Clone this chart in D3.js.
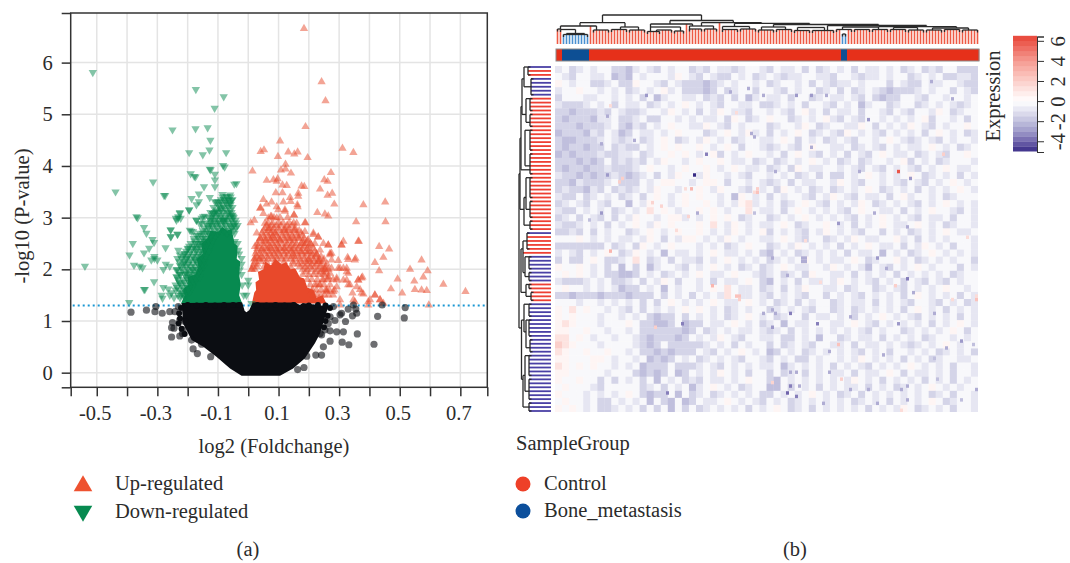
<!DOCTYPE html>
<html lang="en">
<head>
  <meta charset="UTF-8">
  <title>Volcano plot and expression heatmap</title>
  <script src="https://d3js.org/d3.v7.min.js"></script>
  <style>
    body { margin: 0; background: #fff; }
    text { font-family: "Liberation Serif", serif; fill: #2b2b2b; font-size: 20.5px; }
    .tick text { font-size: 20.5px; }
  </style>
</head>
<body>
<div id="chart-container"></div>
<script>
  // ---- panel (a), values as [log2 foldchange, -log10 p] ----
  const xTicks = [-0.5, -0.4, -0.3, -0.2, -0.1, 0, 0.1, 0.2, 0.3, 0.4, 0.5, 0.6, 0.7];
  const xLabels = [-0.5, -0.3, -0.1, 0.1, 0.3, 0.5, 0.7];
  const yTicks = [0, 1, 2, 3, 4, 5, 6];
  const threshold = 1.3;

  const downPoints = [
    [-0.513,5.81],[-0.173,5.48],[-0.081,5.34],[-0.111,5.12],[-0.25,4.7],[-0.174,4.72],[-0.134,4.74],[-0.125,4.5],
    [-0.128,4.31],[-0.195,4.26],[-0.15,4.22],[-0.073,4.26],[-0.083,4.01],[-0.078,3.98],[-0.124,3.93],[-0.127,3.94],
    [-0.19,3.85],[-0.174,3.79],[-0.178,3.8],[-0.11,3.84],[-0.11,3.73],[-0.314,3.69],[-0.438,3.5],[-0.278,3.43],[-0.274,3.43],
    [-0.039,3.66],[-0.046,3.65],[-0.146,3.6],[-0.11,3.6],[-0.163,3.46],[-0.187,3.37],[-0.163,3.31],[-0.171,3.25],
    [-0.127,3.39],[-0.11,3.31],[-0.099,3.31],[-0.085,3.45],[-0.072,3.41],[-0.06,3.44],[-0.072,3.34],[-0.055,3.34],
    [-0.063,3.28],[-0.088,3.18],[-0.116,3.08],[-0.063,3.08],[-0.195,3.15],[-0.226,3.1],[-0.231,3.02],[-0.239,2.99],
    [-0.223,2.99],[-0.369,3.02],[-0.365,3.0],[-0.143,3.03],[-0.154,2.99],[-0.171,2.95],[-0.16,2.88],[-0.08,2.95],
    [-0.055,3.05],[-0.344,2.81],[-0.336,2.7],[-0.316,2.58],[-0.311,2.52],[-0.256,2.76],[-0.255,2.63],[-0.234,2.68],
    [-0.381,2.5],[-0.273,2.42],[-0.327,2.41],[-0.344,2.32],[-0.392,2.28],[-0.31,2.25],[-0.3,2.18],
    [-0.539,2.06],[-0.377,2.08],[-0.358,2.06],[-0.349,2.03],[-0.32,2.18],[-0.31,2.21],[-0.28,2.0],[-0.272,2.1],
    [-0.259,2.06],[-0.311,1.76],[-0.344,1.61],[-0.341,1.61],[-0.393,1.36],[-0.28,1.65],[-0.264,1.62],[-0.286,1.5],
    [-0.283,1.44],[-0.253,1.55],[-0.259,1.5],[-0.231,2.37],[-0.226,2.28],[-0.234,2.21],[-0.209,2.31],[-0.204,2.21],
    [-0.198,2.41],[-0.176,2.41],[-0.176,2.18],[-0.209,2.12],[-0.226,2.08],[-0.237,1.99],[-0.204,1.92],[-0.237,1.86],
    [-0.226,1.73],[-0.195,1.86],[-0.165,2.5],[-0.138,2.54],[-0.193,2.76],[-0.188,2.74],[-0.182,2.73],[-0.171,2.66],
    [-0.138,2.7],[-0.154,2.89],[-0.149,3.02],[-0.171,2.95],[-0.127,2.86],[-0.116,3.08],[-0.105,3.12],[-0.083,2.95],
    [-0.077,2.95],[-0.05,3.02],[-0.226,3.08],[-0.231,2.99],[-0.237,2.95],[-0.195,3.15],[-0.256,2.77],[-0.256,2.63],
    [-0.233,2.68],[0,1.79],[0,1.7],[-0.006,1.5],[0.011,1.34],[-0.193,1.57],[-0.215,1.54],[-0.182,1.99],[-0.187,1.73],
    [-0.033,2.37],[-0.022,2.21],[-0.028,1.99],[-0.044,2.54],[-0.05,2.83],[-0.245,1.45],[-0.24,1.6],[-0.225,1.9],[-0.12,2.95],[-0.1,2.9]
  ];

  // the crowded part of each cloud, read level by level
  const downDenseLevels = [1.45, 1.5, 1.55, 1.6, 1.65, 1.7, 1.75, 1.8, 1.85, 1.9, 1.95, 2.0, 2.05, 2.1, 2.15, 2.2, 2.25, 2.3, 2.35, 2.4, 2.45, 2.5, 2.55, 2.6, 2.65, 2.7, 2.75, 2.8, 2.85, 2.9, 2.95, 3.0, 3.05, 3.1, 3.15, 3.2, 3.25, 3.3, 3.35, 3.4];
  const downDenseX = [
    [-0.225,-0.21],
    [-0.232,-0.222,-0.212,-0.015],
    [-0.22,-0.205],
    [-0.228,-0.21,-0.198],
    [-0.235,-0.215,-0.2,-0.185],
    [-0.24,-0.222,-0.205,-0.19,-0.02],
    [-0.228,-0.212,-0.195,-0.18],
    [-0.232,-0.215,-0.2,-0.185,-0.172],
    [-0.235,-0.205,-0.19,-0.175,-0.16],
    [-0.225,-0.21,-0.195,-0.18,-0.168,-0.022],
    [-0.228,-0.208,-0.192,-0.176,-0.163],
    [-0.235,-0.218,-0.2,-0.185,-0.17,-0.157],
    [-0.222,-0.205,-0.19,-0.175,-0.16,-0.148],
    [-0.215,-0.198,-0.182,-0.165,-0.152,-0.022],
    [-0.228,-0.21,-0.192,-0.172,-0.158,-0.145],
    [-0.22,-0.205,-0.19,-0.175,-0.16,-0.147],
    [-0.215,-0.198,-0.182,-0.168,-0.155,-0.14],
    [-0.212,-0.195,-0.178,-0.163,-0.15,-0.03],
    [-0.205,-0.19,-0.172,-0.158,-0.148,-0.13],
    [-0.2,-0.185,-0.17,-0.155,-0.143],
    [-0.195,-0.178,-0.162,-0.148,-0.138,-0.125],
    [-0.19,-0.175,-0.16,-0.15,-0.135,-0.035],
    [-0.178,-0.158,-0.145,-0.13,-0.118],
    [-0.18,-0.165,-0.15,-0.14,-0.125],
    [-0.165,-0.148,-0.125,-0.108],
    [-0.16,-0.15,-0.13,-0.118,-0.1,-0.07,-0.045],
    [-0.15,-0.135,-0.112,-0.095,-0.08,-0.062,-0.048],
    [-0.145,-0.132,-0.118,-0.102,-0.088,-0.07,-0.055,-0.04],
    [-0.135,-0.12,-0.108,-0.09,-0.075,-0.06,-0.047,-0.035],
    [-0.14,-0.125,-0.11,-0.095,-0.08,-0.065,-0.05,-0.04],
    [-0.125,-0.112,-0.098,-0.085,-0.07,-0.055,-0.042],
    [-0.13,-0.12,-0.105,-0.09,-0.075,-0.06,-0.048],
    [-0.118,-0.1,-0.088,-0.07,-0.052],
    [-0.125,-0.11,-0.1,-0.085,-0.068,-0.055],
    [-0.105,-0.09,-0.075,-0.06],
    [-0.115,-0.095,-0.08,-0.065,-0.052],
    [-0.098,-0.085,-0.07,-0.058],
    [-0.105,-0.09,-0.075,-0.06],
    [-0.09,-0.08,-0.065,-0.052],
    [-0.085,-0.07,-0.058]
  ];

  const upPoints = [
    [0.184,6.66],[0.242,5.63],[0.255,5.26],[0.189,4.76],[0.105,4.48],[0.311,4.34],[0.347,4.26],[0.041,4.28],[0.052,4.31],
    [0.132,4.27],[0.152,4.23],[0.163,4.27],[0.098,4.18],[0.196,4.16],[0.123,4.03],[0.108,3.92],[0.123,3.94],[0.141,3.86],
    [0.014,3.9],[0.273,3.87],[0.061,3.72],[0.083,3.73],[0.097,3.75],[0.094,3.7],[0.251,3.73],[0.262,3.7],[0.176,3.61],
    [0.185,3.6],[0.113,3.63],[0.127,3.62],[0.237,3.55],[0.091,3.48],[0.113,3.48],[0.165,3.47],[0.165,3.41],[0.262,3.43],
    [0.277,3.47],[0.284,3.26],[0.38,3.25],[0.452,3.3],[0.05,3.35],[0.061,3.26],[0.077,3.3],[0.116,3.3],[0.138,3.39],
    [0.14,3.31],[0.162,3.25],[0.041,3.19],[0.05,3.08],[0.094,3.21],[0.121,3.15],[0.151,3.05],[0.163,3.21],[0.228,3.1],
    [0.253,3.07],[0.264,3.03],[0.074,3.02],[0.066,2.99],[0.008,2.9],[0.02,2.95],[0.189,2.9],[0.356,2.92],[0.453,2.92],
    [0.314,2.54],[0.308,2.47],[0.365,2.54],[0.432,2.44],[0.465,2.39],[0.231,2.62],[0.215,2.67],[0.22,2.5],[0.264,2.47],
    [0.27,2.31],[0.328,2.23],[0.354,2.21],[0.446,2.23],[0.572,2.18],[0.534,2.0],[0.592,1.97],[0.578,1.85],[0.548,1.77],
    [0.644,1.71],[0.717,1.57],[0.55,1.61],[0.572,1.6],[0.589,1.59],[0.493,1.81],[0.471,1.62],[0.508,1.54],[0.596,1.31],
    [0.418,2.13],[0.432,1.97],[0.374,1.83],[0.363,1.79],[0.358,1.66],[0.374,1.54],[0.418,1.5],[0.402,1.41],[0.396,1.31],
    [0.435,1.41],[0.446,1.34],[0.352,2.18],[0.33,2.19],[0.325,1.95],[0.314,2.02],[0.292,1.83],[0.325,1.79],[0.297,2.02],
    [0.275,2.31],[0.336,1.7],[0.281,1.57],[0.303,1.41],[0.347,1.41],[0.259,1.57],[0.248,1.79],[0.253,1.99],[0.237,2.18],
    [0.264,1.83],[0.209,1.57],[0.226,1.7],[0.303,1.31],
    [0.077,3.02],[0.055,2.89],[0.099,3.15],[0.039,3.18],[0.094,2.99],[0.121,3.12],[0.151,3.05],[0.16,2.89],[0.187,2.9],
    [0.154,2.76],[0.187,2.73],[0.028,2.7],[0.039,2.6],[0.066,2.79],[0.088,2.7],[0.121,2.76],[0.055,2.54],[0.077,2.6],
    [0.105,2.57],[0.138,2.6],[0.165,2.6],[0.198,2.57],[0.215,2.7],[0.231,2.63],[0.248,2.5],[0.264,2.47],[0.237,2.37],
    [0.209,2.47],[0.182,2.5],[0.022,2.44],[0.044,2.37],[0.066,2.41],[0.094,2.37],[0.116,2.41],[0.143,2.37],[0.176,2.34],
    [0.198,2.34],[0.226,2.28],[0.27,2.28],[0.275,2.18],[0.297,2.17],[0.198,2.18],[0.231,2.15],[0.253,2.02],[0.275,2.02],
    [0.303,2.02],[0.325,2.02],[0.022,2.21],[0.039,2.21],[0.011,2.0],[0.248,1.92],[0.27,1.92],[0.33,1.92],[0.292,1.79],
    [0.314,1.79],[0.33,1.7],[0.264,1.86],[0.237,1.7],[0.259,1.6],[0.292,1.66],[0.363,1.79],[0.377,1.85],[0.369,1.61],
    [0.38,1.52],[0.344,1.54],[0.352,1.37],[0.396,1.37],[0.418,1.5],[0.435,1.41],[0.308,2.47],[0.363,2.54]
  ];

  const upDenseLevels = [1.5, 1.6, 1.7, 1.8, 1.9, 1.95, 2.0, 2.05, 2.1, 2.15, 2.2, 2.25, 2.3, 2.35, 2.4, 2.45, 2.5, 2.55, 2.6, 2.65, 2.7, 2.75, 2.8, 2.85, 2.9, 3.0];
  const upDenseX = [
    [0.215,0.228,0.24,0.252,0.265,0.28],
    [0.212,0.225,0.24,0.255,0.268,0.285],
    [0.205,0.22,0.235,0.25,0.27],
    [0.195,0.21,0.228,0.245,0.262,0.28],
    [0.18,0.2,0.215,0.232,0.25],
    [0.19,0.222,0.24,0.258],
    [0.012,0.022,0.18,0.195,0.21,0.23,0.245,0.265],
    [0.015,0.028,0.052,0.14,0.17,0.188,0.205,0.22,0.238,0.255],
    [0.018,0.03,0.15,0.165,0.18,0.195,0.21,0.225,0.24,0.26],
    [0.022,0.042,0.06,0.088,0.118,0.148,0.172,0.19,0.204,0.218,0.232,0.248],
    [0.02,0.035,0.05,0.065,0.08,0.095,0.11,0.125,0.14,0.155,0.17,0.185,0.2,0.215,0.232,0.25],
    [0.027,0.044,0.062,0.078,0.092,0.108,0.126,0.144,0.152,0.168,0.186,0.208,0.222,0.24],
    [0.024,0.038,0.055,0.07,0.085,0.1,0.118,0.132,0.148,0.16,0.178,0.195,0.21,0.225],
    [0.028,0.05,0.068,0.08,0.098,0.114,0.125,0.142,0.158,0.172,0.19,0.205,0.22],
    [0.03,0.045,0.06,0.075,0.09,0.105,0.12,0.135,0.15,0.165,0.18,0.195,0.215],
    [0.032,0.052,0.072,0.086,0.1,0.125,0.14,0.155,0.17,0.185,0.2],
    [0.03,0.047,0.065,0.08,0.095,0.112,0.128,0.145,0.16,0.175,0.19,0.205],
    [0.036,0.058,0.074,0.09,0.105,0.122,0.138,0.152,0.18,0.195],
    [0.04,0.055,0.07,0.085,0.1,0.118,0.132,0.15,0.168,0.185],
    [0.05,0.066,0.08,0.094,0.112,0.128,0.146,0.162,0.178],
    [0.045,0.06,0.075,0.09,0.11,0.125,0.14,0.16,0.175],
    [0.05,0.068,0.08,0.102,0.118,0.132,0.15,0.168],
    [0.055,0.07,0.085,0.1,0.12,0.135,0.155],
    [0.062,0.078,0.092,0.108,0.128,0.145],
    [0.065,0.08,0.1,0.115,0.135,0.15],
    [0.085,0.105,0.13]
  ];

  const otherPoints = [
    [-0.387,1.17],[-0.336,1.21],[-0.308,1.18],[-0.305,1.28],[-0.284,1.15],[-0.259,1.18],[-0.242,1.18],[-0.231,1.28],
    [-0.25,0.97],[-0.253,0.87],[-0.245,0.86],[-0.226,1.02],[-0.209,0.99],[-0.215,0.83],[-0.253,0.69],[-0.226,0.71],
    [-0.217,0.76],[-0.182,0.46],[-0.168,0.37],[-0.154,0.55],[-0.124,0.31],[-0.187,0.63],[0.36,0.75],[0.31,0.59],
    [0.332,0.54],[0.415,0.55],[0.427,1.09],[0.515,1.06],[0.518,1.26],[0.442,1.31],[0.347,1.31],[0.33,1.23],[0.355,1.23],
    [0.358,1.15],[0.344,1.1],[0.281,1.28],[0.303,1.12],[0.321,0.99],[0.286,1.01],[0.27,1.08],[0.314,0.79],[0.292,0.79],
    [0.27,0.81],[0.253,0.83],[0.242,0.73],[0.27,0.61],[0.248,0.5],[0.242,0.34],[0.223,0.34],[0.184,0.1],[0.163,0.06],
    [0.193,0.32],[0.264,0.95],[0.237,0.76],[0.308,1.15]
  ];
  const otherEdge = [
    [-0.2,1.31],[-0.17,1.3],[-0.14,1.31],[-0.11,1.3],[-0.08,1.31],[-0.05,1.31],[-0.03,1.31],
    [0.03,1.31],[0.06,1.3],[0.09,1.31],[0.12,1.3],[0.15,1.31],[0.2,1.3],[0.23,1.31],[0.255,1.3],
    [-0.222,1.25],[-0.228,1.15],[-0.225,1.05],[-0.23,0.95],[-0.22,0.85],[-0.21,0.75],
    [0.27,1.25],[0.262,1.1],[0.255,1.0],[0.25,0.88]
  ];

  // outlines of the regions where the points merge into a solid mass
  const otherCore = [[-0.22,1.35],[-0.215,0.95],[-0.187,0.63],[-0.148,0.5],[-0.105,0.31],[-0.06,0.08],[-0.022,-0.06],
    [0.105,-0.06],[0.148,0.08],[0.187,0.28],[0.22,0.57],[0.237,0.76],[0.264,1.28],[0.18,1.35],[0.17,1.31],[0.155,1.36],
    [0.015,1.36],[0.003,1.21],[-0.006,1.17],[-0.012,1.2],[-0.02,1.36]];
  const upCore = [[0.012,1.34],[0.02,1.55],[0.026,1.6],[0.024,1.75],[0.036,1.8],[0.032,1.95],[0.05,2.0],[0.056,2.15],[0.075,2.08],[0.09,2.2],
    [0.11,2.1],[0.125,2.14],[0.14,2.0],[0.155,2.02],[0.17,1.85],[0.185,1.82],[0.195,1.65],[0.215,1.6],[0.225,1.45],[0.245,1.5],[0.258,1.34]];
  const downCore = [[-0.222,1.34],[-0.21,1.5],[-0.215,1.62],[-0.198,1.7],[-0.2,1.85],[-0.175,1.9],[-0.165,2.05],[-0.17,2.2],[-0.15,2.3],[-0.155,2.5],
    [-0.135,2.6],[-0.125,2.75],[-0.1,2.72],[-0.085,2.82],[-0.07,2.75],[-0.055,2.78],[-0.045,2.5],[-0.035,2.45],[-0.038,2.2],[-0.026,2.15],
    [-0.03,1.9],[-0.025,1.7],[-0.03,1.5],[-0.02,1.34]];

  const legendA = ['Up-regulated', 'Down-regulated'];

  // ---- panel (b) ----
  const legendB = ['Control', 'Bone_metastasis'];
  const colGroupNames = ['Control', 'Bone_metastasis', 'Control', 'Bone_metastasis', 'Control'];
  const colGroupCounts = [2, 9, 84, 2, 44];
  const rowGroupNames = ['b', 'r', 'b', 'r', 'b', 'r', 'b', 'r', 'b'];
  const rowGroupCounts = [1, 2, 5, 34, 1, 5, 7, 5, 28];

  // [first leaf, last leaf, merge height]
  const colBrackets = [
    [0,1,15],[2,10,9.5],[3,9,10.5],[1,6,14.5],[12,17,14],[1,13,18],[18,23,14.5],[24,29,14],[21,27,17],[7.5,22.5,21.3],
    [15,48,29],[37.5,58.6,23.5],[31,45,20],[31,41,17],[33,38,14],[30,34,12.5],[39,42,13],
    [44,48,15],[49,53,15],[44,52,18],[55,60,14.5],[61,66,15],[55,64,17.5],[67,72,14],[73,78,14.5],[68,76,17],
    [79,84,13.5],[85,92,13.5],[80,89,16.5],[93,98,14.5],[95,96,10],[99,104,14.5],[105,110,14.5],[95,107,17],
    [111,116,14.5],[117,122,14],[112,120,16.5],[123,128,14],[129,134,14.5],[135,140,14],[125,137,16],
    [48,68,21.3],[59,84,20.6],[72,107,19.5],[90,123,18.5],[107,133,17.3]
  ];
  const rowBrackets = [
    [0,2,23],[3,7,20],[0,5,27],[8,11,21],[12,15,21],[8,14,25],[16,21,21],[22,27,21],[16,25,26],[28,33,21],[34,38,21],[39,41,21],
    [28,36,25],[33,40,27],[3,12,29],[10,26,30],[18,36,31],[27,66,32],
    [42,46,24],[48,51,22],[52,54,22],[48,53,26],[55,56,22],[57,59,20],[55,58,25],[44,52,28],[46,57,30],
    [60,63,22],[64,68,22],[69,72,21],[64,71,25],[60,67,27],[73,78,22],[79,84,22],[85,87,22],[73,82,26],[78,86,28],[64,79,29.5]
  ];

  // heatmap read block by block: . near white, 1-4 blue to deep blue, r s t pale to stronger red
  const levelValues = { '.': -0.25, '1': -0.85, '2': -1.4, '3': -2.0, '4': -2.8, 'r': 0.45, 's': 1.2, 't': 2.0 };
  const heatRows = [
    "1.21.1..22 31.12.1..2 12.1121..1 2.11.2.21. 1.2.11.1.2 1.212..222",
    ".12..11.32 3.1...1r.1 2.122.1.21 .1211..112 ..1211.1.. 21.1.22112",
    "r.1..221.2 2r..12.122 2321.1..1. 21..1.2.12 11.1...2.1 22.11..122",
    "1..r..1.1. 21.1.r1.22 232.21..2. .12.1..21. 2.21.12322 21.1..2.12",
    "2...11..1. 1.2.31..11 .212.2.31. 11.2..21.1 1.12.2322. .12..1..1.",
    "12221.1.2. 11.21.1.r. 1.12..11.2 21.1.2..12 .1.31..21. .21.1.121.",
    "22322212.1 221..1r.1. 2.1r.112.. 1.12.r1.2. 11.2..12.1 2..1r.21..",
    "23222311.2 21.22..1.1 .11.2r.21. r..21.1.r1 2.12..1.1. 1.r2..1.2.",
    "22232221.2 312.1.r..1 1r.12.1... 21..1r.21. .11r.2.1.1 r.12.1..r.",
    "3222312.13 2.11.1.r.. .21.r.1r1. 2.1.r.21.1 2r.1.12.1. 1.2.r.1.21",
    "2332221.12 1.21.r.21. 1r.1.21..1 1.r.2.1.21 .12..1.r.1 21.12.1..1",
    "2322322.21 22.1.r.r.. r.1.r.2..1 21.12.r..1 1.21.12.1. 11.r.1.21.",
    "3232221221 1.21..r.r. 1.r2.1.r.. 1.2.r.12.1 .2.12.r.11 .21.12..r.",
    "2223232.21 212.1r..1. r..r.11.21 .21.1.r.1. 21.21..1.r 2.1.21...1",
    "2322322122 21.r..1.r. .r.1.r.11. 21.2r.11.. 1.12.12.1. 12.1.r.11.",
    "1223232212 321.2.1r.. 1r..1.12.. 1.1.21.2.2 2.1.r.1.1. r.21.1.2.1",
    "22312221.2 22.1.rr..1 .rr.2..1.1 21.2.11..1 r.12..1.12 .12.1.r.1.",
    "2122312.21 21.1r..1.. r.1r..12.1 .2r.1.21.2 1.1.r.21.1 .2.1.1.r.1",
    "122.21.1.2 1.2.r.1.r. r..1.3r.1. 2.1..12.1r .12.11.2.r 1..1.21...",
    "21.12.12.. 3.1r..1.r. .r.1.1rs1. 1.21.r.12. 1.1r.21.1. 12.1.r.1.1",
    "122.1.1.21 .1.s.r.1.. r.r.1..s.1 1.2.r.1.1. 12.r..11.2 .1.r..12.1",
    "21.2.12.2. 1r..1.rr1. 1.r.r.21.. 21.1.r.1.1 .12.1.r.1. 12.11.2..1",
    "1221.1.2.1 .r.1r.r... r.s.1r.1.1 1.r.21..r. 1.2.1.r.11 .r.1.21..1",
    "2212.2.1.. 21.r.1.r.. r.1.1r.1.r 2.1.12.1r. 1.12..2.1. 21.1.r.11.",
    "...r.1.1.1 1.1r.2.1rr .1.1r.1..1 1.r.12..21 .1r.11..r1 .2.1.1...1",
    "2222222.21 .2r.1.r... 1.1.21.r.. 21.1r.1.1. 2.1.r.11.2 .1r.1.2..1",
    "1.12.1.r.2 1r.1.3.11. 1.r.11.1.2 3.1.21.1.1 .2.11.3.1. 21.r.1.1.1",
    "2.22.r.221 .s.21.2.11 2.1.r.1.1. 21.1.r.1.1 1.r.21..r1 .21.1.1..2",
    "r..r.1.2.3 .2.31..12. 1.r.1.21.2 1.r.11..1r .1.13.12.1 .r.1...2.1",
    ".r.r.1.223 32.1.21.1. r.11.r..12 1.21.2r..1 1.2.1.1.2. 1.1.1.21..",
    "12221.1.22 1.2.1r.2.. 1.2.11.r.2 3.1.2.11.1 r.1.12.1.2 .12.12.1..",
    ".r..1.1.13 22.1.3.1.. 1.r.s.11.2 1.2.1r..11 .21..21.12 .1.1.r..1.",
    "2232223222 3222.2.1.2 .1.1s.11.1 2.1.12..2. 1.12.1.1.2 .r.1.1.2.1",
    "...1..1.1. 1.2.2.r.1. 1.r.11.r.1 .21.2.1..2 1.11.2.1.1 2..12.1.21",
    "r.s.r..1.1 2.2.1.1.r. r.1.21.1.. 21.1.12..2 1.21.1.1.2 .r.1.2.1.1",
    "r.r...1..1 .1.2322.2. 1.1.21.r.1 .21..2.11. 1.2.1.r.1. 12.1.1.2.1",
    "rsr...1... r.22332.32 2.11.r.1.2 1.3.11...1 1.r.12.1.1 .1.2.1.r.1",
    "rr..r..1.. 1.22222232 .21.1.11.1 21.2.1.1.1 .1.12.1..2 1.1.1.r.2.",
    "ss.r.1..1. .12322232. 1.1r.12..1 1.22.1.3.. 21.11.2.1. 1.21..1.1.",
    "tsr...1... .1232.2222 21.1.2.1.. 2.21.12..1 1.2.11.1.1 21.1.r.1..",
    "sr..r..r.. 1.22323222 .12.1.r.1. 32.1.21.1. 1.12.1.2.. 1.1.21.1.2",
    "rr...rr.1. .1.3232.1. 21.1.12..1 2.1.22.1.. 1.1r.1.1.2 .1.21..11.",
    "sr.r.r..1. 1.3222.222 1.12.1.1.1 1.31.1.1.2 .1.12.1.1. r.1.1.2..1",
    "rr.....1.. .23232.32. 1.1r.1.2.. 2.21.2.1.1 1.2.11.r.2 .11.1.2..1",
    "r..r..2.2. 1.2.3.1.21 2.11.1.r.. 23.1.1.1.1 .1r.1.2.1. 1.2.1.2.1.",
    ".r...12... ..21.2.1.3 1.r.1.21.. 33.2.1.2.1 .11.2.1.21 .1.r.1.1..",
    "r...1.1.1. r.2322.3.2 1.21.1.1.2 2.1.1.r.1. 21.2.1.1.1 .1.21.2..1",
    ".r..1.22.1 .1.3.23.32 .11.r.1.12 .1.21.1.1. 1.21.1.2.1 .1.r.21..1",
    "r.r.1.221. 1.2.2.3.2. 21.1.1.2.1 .r.21.2.1. 1.1.2.1.1r .21.1.2..1"
  ];

  // single cells that stand out, [column, row, value] on the full 141 x 100 grid
  const strongCells = [
    [114,30,6],[46,31,-5],[50,25,-3.5],[17,31,-3],[30,8,-3],[58,7,-2.5],[45,35,3],[43,35,1.5],[67,36,2.5],[67,35,2],[66,36,1.5],
    [60,66,2.5],[61,66,2.5],[61,67,2],[140,67,2.5],[140,66,1.5],[52,63,3],[129,25,2],[82,55,-2.5],[83,55,-2.5],[82,56,-2.5],[83,56,-2.5],
    [107,55,-3],[117,61,-3.5],[78,71,-3.5],[87,74,-3.5],[72,75,-3],[135,79,-3],[78,92,-3.5],[77,94,-4],[80,95,-3.5],[113,63,2],
    [94,80,2.5],[95,90,2],[18,53,3],[33,75,2],[42,74,-3.5],[37,94,-3.5],
    [69,71,-2.5],[72,70,-2.5],[73,71,-2.5],[77,60,-2.5],[72,55,-2.5],[110,58,-2.5],[119,65,-2.5],[126,71,-2.5],[114,74,-3],[98,72,-2.5],
    [130,81,-2.5],[126,84,-2],[109,83,-2.5],[91,82,-2.5],[91,88,-2.5],[80,88,-2.5],[78,88,-2.5],[81,92,-2.5],[98,93,-2.5],[104,93,-2.5],
    [115,93,-2.5],[117,92,-2.5],[127,90,-2],[89,97,-2.5],[107,97,-2.5],[117,96,-2.5],[140,93,-2.5],[135,96,-2],[139,80,-2],
    [64,6,-2.5],[69,8,-2.5],[80,8,-3],[85,8,-3],[90,8,-2.5],[125,4,-2.5],[132,9,-2.5],[104,15,-3],[65,19,-2.5],[85,23,-2.5],[73,30,-2.5],
    [101,30,-2.5],[118,32,-3],[94,45,-3],[117,46,-2.5],[106,42,-2.5],[66,42,-2],[17,14,-2.5],[15,22,-2.5],[26,21,-2.5],[66,20,-2.5],
    [15,42,-3],[47,42,-2.5],[11,44,-2],
    [18,11,1.5],[32,39,1.8],[35,40,1.8],[44,43,1.8],[21,33,2],[22,32,2],[40,47,1.5],[60,13,1.5],[83,50,1.5],[72,91,1.8],[88,62,1.5],
    [132,67,1.5],[137,49,1.5],[115,99,1.5]
  ];

  const colorBarSteps = d3.range(-5, 6.5, 0.5);
  const colorBarTicks = [-4, -2, 0, 2, 4, 6];
  const heatStops = [-5, -4, -3, -2, -1, 0, 1, 2, 3, 4, 5, 6.4];
  const heatColors = ['#372a85', '#6f63ab', '#9d99c9', '#c0bfdd', '#e2e2f0', '#ffffff', '#fde8e6', '#fbcfca', '#f9b5ae', '#f59b92', '#f0786e', '#e8483a'];

  const svg = d3.select('#chart-container').append('svg')
    .attr('width', 1070)
    .attr('height', 563);

  // soften the edges of the heatmap blocks
  svg.append('defs').append('filter')
    .attr('id', 'soft')
    .attr('filterUnits', 'userSpaceOnUse')
    .attr('x', 555).attr('y', 66).attr('width', 423).attr('height', 346)
    .append('feGaussianBlur').attr('stdDeviation', 0.7).attr('edgeMode', 'duplicate');

  // Panel (a)
  const x = d3.scaleLinear().domain([-0.586, 0.789]).range([70.7, 487.3]);
  const y = d3.scaleLinear().domain([-0.283, 6.96]).range([387.3, 13]);
  const a = svg.append('g');

  a.selectAll('.gx').data(xTicks).enter().append('line')
    .attr('x1', d => x(d)).attr('x2', d => x(d))
    .attr('y1', y.range()[1]).attr('y2', y.range()[0])
    .attr('stroke', '#e4e4e4').attr('stroke-width', 1.5);
  a.selectAll('.gy').data(yTicks).enter().append('line')
    .attr('y1', d => y(d)).attr('y2', d => y(d))
    .attr('x1', x.range()[0]).attr('x2', x.range()[1])
    .attr('stroke', '#e4e4e4').attr('stroke-width', 1.5);

  const outline = d3.line().x(d => x(d[0])).y(d => y(d[1]));

  a.append('path').datum(downCore).attr('d', d => outline(d) + 'Z').attr('fill', '#078a50');
  a.append('path').datum(upCore).attr('d', d => outline(d) + 'Z').attr('fill', '#e8492b');

  const allDown = downPoints.concat(downDenseLevels.flatMap((l, i) => downDenseX[i].map(v => [v, l])));
  const allUp = upPoints.concat(upDenseLevels.flatMap((l, i) => upDenseX[i].map(v => [v, l])));

  const triangle = d3.symbol().type(d3.symbolTriangle).size(30);
  a.selectAll('.down').data(allDown).enter().append('path')
    .attr('d', triangle)
    .attr('transform', d => `translate(${x(d[0])},${y(d[1])}) rotate(180)`)
    .attr('fill', '#078a50').attr('opacity', 0.5);
  a.selectAll('.up').data(allUp).enter().append('path')
    .attr('d', triangle)
    .attr('transform', d => `translate(${x(d[0])},${y(d[1])})`)
    .attr('fill', '#e8492b').attr('opacity', 0.5);

  a.append('line')
    .attr('x1', x.range()[0] + 2).attr('x2', x.range()[1] - 2)
    .attr('y1', y(threshold)).attr('y2', y(threshold))
    .attr('stroke', '#1b97d3').attr('stroke-width', 2).attr('stroke-dasharray', '2 3');

  a.append('path').datum(otherCore).attr('d', d => outline(d) + 'Z').attr('fill', '#0b0d12');
  a.selectAll('.edge').data(otherEdge).enter().append('circle')
    .attr('cx', d => x(d[0])).attr('cy', d => y(d[1])).attr('r', 3)
    .attr('fill', '#0b0d12');
  a.selectAll('.other').data(otherPoints).enter().append('circle')
    .attr('cx', d => x(d[0])).attr('cy', d => y(d[1])).attr('r', 3.6)
    .attr('fill', '#0b0d12').attr('opacity', 0.6);

  // frame and axes
  a.append('rect')
    .attr('x', x.range()[0]).attr('y', y.range()[1])
    .attr('width', x.range()[1] - x.range()[0]).attr('height', y.range()[0] - y.range()[1])
    .attr('fill', 'none').attr('stroke', '#333').attr('stroke-width', 1.5);

  const xAxis = d3.axisBottom(x)
    .tickValues([x.domain()[0], ...xTicks, x.domain()[1]])
    .tickSize(9).tickPadding(9)
    .tickFormat(d => xLabels.includes(d) ? d : '');
  const yAxis = d3.axisLeft(y)
    .tickValues([y.domain()[0], ...yTicks, y.domain()[1]])
    .tickSize(9).tickPadding(9)
    .tickFormat(d => yTicks.includes(d) ? d : '');

  const gx = a.append('g').attr('transform', `translate(0,${y.range()[0]})`).call(xAxis);
  const gy = a.append('g').attr('transform', `translate(${x.range()[0]},0)`).call(yAxis);
  [gx, gy].forEach(g => {
    g.select('.domain').remove();
    g.selectAll('.tick line').attr('stroke', '#333').attr('stroke-width', 1.5);
    g.selectAll('.tick text').attr('fill', '#2b2b2b');
  });
  gx.selectAll('.tick text').attr('dx', -2);

  a.append('text').attr('x', 274).attr('y', 453).attr('text-anchor', 'middle').text('log2 (Foldchange)');
  a.append('text').attr('transform', 'translate(29,216) rotate(-90)').attr('text-anchor', 'middle').text('-log10 (P-value)');

  const bigTriangle = d3.symbol().type(d3.symbolTriangle).size(150);
  a.append('path').attr('d', bigTriangle).attr('transform', 'translate(83,486)').attr('fill', '#ee5230');
  a.append('path').attr('d', bigTriangle).attr('transform', 'translate(83,511) rotate(180)').attr('fill', '#078a50');
  a.selectAll('.legA').data(legendA).enter().append('text')
    .attr('x', 115).attr('y', (d, i) => 490 + i * 28).text(d => d);
  a.append('text').attr('x', 248).attr('y', 556).attr('text-anchor', 'middle').text('(a)');

  // Panel (b)
  const b = svg.append('g');
  const heatColor = d3.scaleLinear().domain(heatStops).range(heatColors).clamp(true);

  // annotation bar
  const colGroups = colGroupNames.flatMap((n, i) => d3.range(colGroupCounts[i]).map(() => n));
  const rowGroups = rowGroupNames.flatMap((n, i) => d3.range(rowGroupCounts[i]).map(() => n));
  const colBand = d3.scaleBand().domain(d3.range(colGroups.length)).range([556, 979]);
  const groupColor = d3.scaleOrdinal().domain(legendB).range(['#e6301a', '#0d4f94']);

  b.selectAll('.anno').data(colGroups).enter().append('rect')
    .attr('x', (d, i) => colBand(i)).attr('width', colBand.bandwidth() + 0.3)
    .attr('y', 49).attr('height', 12)
    .attr('fill', d => groupColor(d));
  b.append('rect').attr('x', 556).attr('y', 49).attr('width', 423).attr('height', 12)
    .attr('fill', 'none').attr('stroke', '#8a8a8a').attr('stroke-width', 1);

  // dendrogram helper, place(leaf, height) gives a point
  function treeSegments(brackets, leafCount, place, leafColor, leafWidth) {
    const covering = c => brackets.filter(k => k[0] <= c && c <= k[1]);
    const segs = [];
    d3.range(leafCount).forEach(i => {
      const top = d3.min(covering(i), k => k[2]) || 9;
      segs.push({ from: place(i, 0), to: place(i, top), color: leafColor(i), width: leafWidth });
    });
    brackets.forEach(k => {
      const base = c => {
        const lower = covering(c).filter(o => o[2] < k[2]);
        return lower.length ? d3.max(lower, o => o[2]) : k[2] - 2.5;
      };
      segs.push({ from: place(k[0], k[2]), to: place(k[1], k[2]), color: '#2a2a2a', width: 1.3 });
      segs.push({ from: place(k[0], k[2]), to: place(k[0], base(k[0])), color: '#2a2a2a', width: 1.3 });
      segs.push({ from: place(k[1], k[2]), to: place(k[1], base(k[1])), color: '#2a2a2a', width: 1.3 });
    });
    return segs;
  }
  function drawSegments(segs) {
    // leaves go under the tree lines
    b.append('g').selectAll('line').data(segs).enter().append('line')
      .attr('x1', d => d.from[0]).attr('y1', d => d.from[1])
      .attr('x2', d => d.to[0]).attr('y2', d => d.to[1])
      .attr('stroke', d => d.color).attr('stroke-width', d => d.width);
  }

  const colX = d3.scaleLinear().domain([0, 140]).range([557.5, 977.5]);
  const colH = d3.scaleLinear().domain([0, 30]).range([44, 14]);
  drawSegments(treeSegments(colBrackets, colGroups.length,
    (c, h) => [colX(c), colH(h)],
    i => colGroups[i] === 'Control' ? '#ee5a45' : '#4a90d0', 1.6));

  const rowY = d3.scaleLinear().domain([0, 87]).range([67, 411]);
  const rowW = d3.scaleLinear().domain([0, 32]).range([551, 519]);
  drawSegments(treeSegments(rowBrackets, rowGroups.length,
    (r, w) => [rowW(w), rowY(r)],
    i => rowGroups[i] === 'r' ? '#ee3f33' : '#4a40a5', 1.8));

  // heatmap blocks
  const cells = heatRows.map(r => r.replace(/ /g, ''));
  const heatX = d3.scaleBand().domain(d3.range(60)).range([555, 978]);
  const heatY = d3.scaleBand().domain(d3.range(cells.length)).range([66, 412]);
  const heat = b.append('g').attr('filter', 'url(#soft)');
  cells.forEach((row, ri) => {
    heat.selectAll(`.row${ri}`).data(row.split('')).enter().append('rect')
      .attr('x', (d, ci) => heatX(ci)).attr('y', heatY(ri))
      .attr('width', heatX.bandwidth() + 0.3).attr('height', heatY.bandwidth() + 0.3)
      .attr('fill', d => heatColor(levelValues[d]));
  });
  const fineX = d3.scaleBand().domain(d3.range(141)).range([555, 978]);
  const fineY = d3.scaleBand().domain(d3.range(100)).range([66, 412]);
  b.append('g').selectAll('rect').data(strongCells).enter().append('rect')
    .attr('x', d => fineX(d[0])).attr('y', d => fineY(d[1]))
    .attr('width', fineX.bandwidth()).attr('height', fineY.bandwidth())
    .attr('fill', d => heatColor(d[2]));

  // colour bar
  const barY = d3.scaleLinear().domain([-5.07, 6.43]).range([152, 36.5]);
  b.selectAll('.bar').data(colorBarSteps).enter().append('rect')
    .attr('x', 1013).attr('width', 24)
    .attr('y', d => barY(d + 0.5)).attr('height', d => barY(d) - barY(d + 0.5) + 0.2)
    .attr('fill', d => heatColor(d + 0.25));
  const barAxis = d3.axisRight(barY)
    .tickValues([barY.domain()[0], ...colorBarTicks, barY.domain()[1]])
    .tickSize(7)
    .tickFormat(d => colorBarTicks.includes(d) ? d : '');
  const gb = b.append('g').attr('transform', 'translate(1037,0)').call(barAxis);
  gb.select('.domain').attr('stroke', '#333');
  gb.selectAll('.tick line').attr('stroke', '#333');
  gb.selectAll('.tick text')
    .attr('transform', 'rotate(-90)')
    .attr('x', 0).attr('y', 0)
    .attr('dx', 0).attr('dy', 28)
    .attr('text-anchor', 'middle').attr('fill', '#2b2b2b');
  b.append('text').attr('transform', 'translate(1000,96) rotate(-90)').attr('text-anchor', 'middle').text('Expression');

  // sample group legend
  b.append('text').attr('x', 516).attr('y', 450).text('SampleGroup');
  b.selectAll('.legB').data(legendB).enter().append('circle')
    .attr('cx', 523).attr('cy', (d, i) => 484 + i * 27).attr('r', 7.5)
    .attr('fill', (d, i) => i === 0 ? '#ee4028' : '#0c4f9c');
  b.selectAll('.legT').data(legendB).enter().append('text')
    .attr('x', 544).attr('y', (d, i) => 490 + i * 27).text(d => d);
  b.append('text').attr('x', 795).attr('y', 556).attr('text-anchor', 'middle').text('(b)');
</script>
</body>
</html>
